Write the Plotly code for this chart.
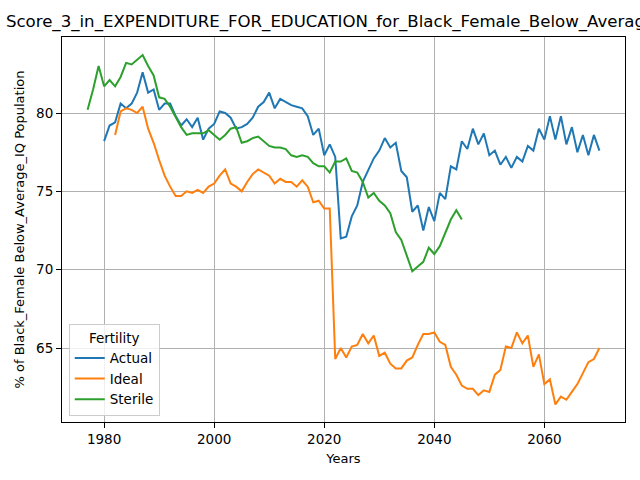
import plotly.graph_objects as go

# values
actual_years = list(range(1980, 2071))
actual = [78.2, 79.2, 79.4, 80.6, 80.3, 80.6, 81.3, 82.6, 81.3, 81.5,
          80.2, 80.6, 80.6, 79.8, 79.2, 79.6, 79.1, 79.7, 78.3, 79.0,
          79.3, 80.1, 80.0, 79.7, 79.0, 79.1, 79.3, 79.7, 80.4, 80.7,
          81.3, 80.3, 80.9, 80.7, 80.5, 80.4, 80.3, 79.8, 78.6, 79.0,
          77.3, 78.0, 77.2, 72.0, 72.1, 73.4, 74.1, 75.6, 76.3, 77.1,
          77.6, 78.4, 77.8, 78.1, 76.3, 75.9, 73.7, 74.1, 72.5, 74.0,
          73.1, 74.9, 74.5, 76.6, 76.4, 78.2, 77.7, 79.0, 78.0, 78.7,
          77.3, 77.6, 76.7, 77.2, 76.5, 77.2, 76.9, 77.9, 77.6, 79.0,
          78.3, 79.8, 78.3, 79.8, 78.0, 79.1, 77.5, 78.6, 77.3, 78.6,
          77.6]

ideal_years = list(range(1982, 2071))
ideal = [78.6, 80.1, 80.3, 80.2, 80.0, 80.4, 79.0, 78.1,
         77.0, 76.0, 75.3, 74.7, 74.7, 75.0, 74.9, 75.1, 74.9, 75.3,
         75.5, 76.0, 76.4, 75.5, 75.3, 75.0, 75.6, 76.1, 76.4, 76.2,
         76.0, 75.5, 75.8, 75.6, 75.6, 75.3, 75.7, 75.3, 74.3, 74.4,
         73.9, 73.9, 64.3, 65.0, 64.4, 65.1, 65.2, 65.9, 65.3, 65.8,
         64.5, 64.7, 64.0, 63.7, 63.7, 64.2, 64.4, 65.2, 65.9, 65.9,
         66.0, 65.4, 65.2, 63.8, 63.3, 62.6, 62.4, 62.4, 62.0, 62.3,
         62.2, 63.3, 63.6, 65.1, 65.0, 66.0, 65.3, 65.8, 63.8, 64.6,
         62.7, 63.0, 61.4, 61.9, 61.7, 62.2, 62.7, 63.4, 64.1, 64.3,
         65.0]

sterile_years = list(range(1977, 2046))
sterile = [80.2, 81.5, 83.0,
           81.7, 82.1, 81.7, 82.3, 83.2, 83.1, 83.4, 83.7, 83.0, 82.4,
           81.0, 80.9, 80.4, 79.7, 79.1, 78.6, 78.7, 78.7, 78.7, 78.9,
           78.6, 78.3, 78.6, 79.0, 79.1, 78.1, 78.2, 78.4, 78.5, 78.2,
           77.9, 77.8, 77.8, 77.7, 77.3, 77.2, 77.3, 77.2, 76.8, 76.6,
           76.6, 76.2, 76.9, 76.9, 77.1, 76.3, 76.2, 75.6, 74.6, 74.9,
           74.4, 74.1, 73.6, 72.4, 71.9, 70.9, 69.9, 70.2, 70.5, 71.4,
           71.0, 71.5, 72.3, 73.2, 73.8, 73.2]

fig = go.Figure()
fig.add_trace(go.Scatter(x=actual_years, y=actual, mode="lines", name="Actual",
                         line=dict(color="#1f77b4", width=2)))
fig.add_trace(go.Scatter(x=ideal_years, y=ideal, mode="lines", name="Ideal",
                         line=dict(color="#ff7f0e", width=2)))
fig.add_trace(go.Scatter(x=sterile_years, y=sterile, mode="lines", name="Sterile",
                         line=dict(color="#2ca02c", width=2)))

axis_style = dict(
    showgrid=True, gridcolor="#b0b0b0", gridwidth=1,
    showline=True, linecolor="black", linewidth=1, mirror=True,
    ticks="outside", ticklen=5, tickcolor="black", zeroline=False,
    tickfont=dict(size=13.5, color="black"), automargin=False,
)

fig.update_layout(
    width=640, height=480,
    margin=dict(l=62, r=15, t=37, b=58),
    paper_bgcolor="white", plot_bgcolor="white",
    font=dict(family="DejaVu Sans", size=13, color="black"),
    title=dict(text="Score_3_in_EXPENDITURE_FOR_EDUCATION_for_Black_Female_Below_Average_IQ",
               x=0.537, xanchor="center", y=0.955, yanchor="middle",
               font=dict(size=16.6)),
    xaxis=dict(range=[1972.35, 2074.65], tickvals=[1980, 2000, 2020, 2040, 2060],
               title=dict(text="Years", font=dict(size=13), standoff=7), **axis_style),
    yaxis=dict(range=[60.28, 84.85], tickvals=[65, 70, 75, 80],
               title=dict(text="% of Black_Female Below_Average_IQ Population",
                          font=dict(size=13), standoff=8), **axis_style),
    legend=dict(x=0.012, y=0.015, xanchor="left", yanchor="bottom",
                bgcolor="rgba(255,255,255,0.8)", bordercolor="#cccccc", borderwidth=1,
                title=dict(text="Fertility", side="top center", font=dict(size=13.5)),
                font=dict(size=13.5), tracegroupgap=0),
    showlegend=True,
)

# drop the page's default body margin so the figure sits at the window corner
fig.write_html("out.html", config={"displayModeBar": False},
               post_script="document.body.style.margin='0';")
